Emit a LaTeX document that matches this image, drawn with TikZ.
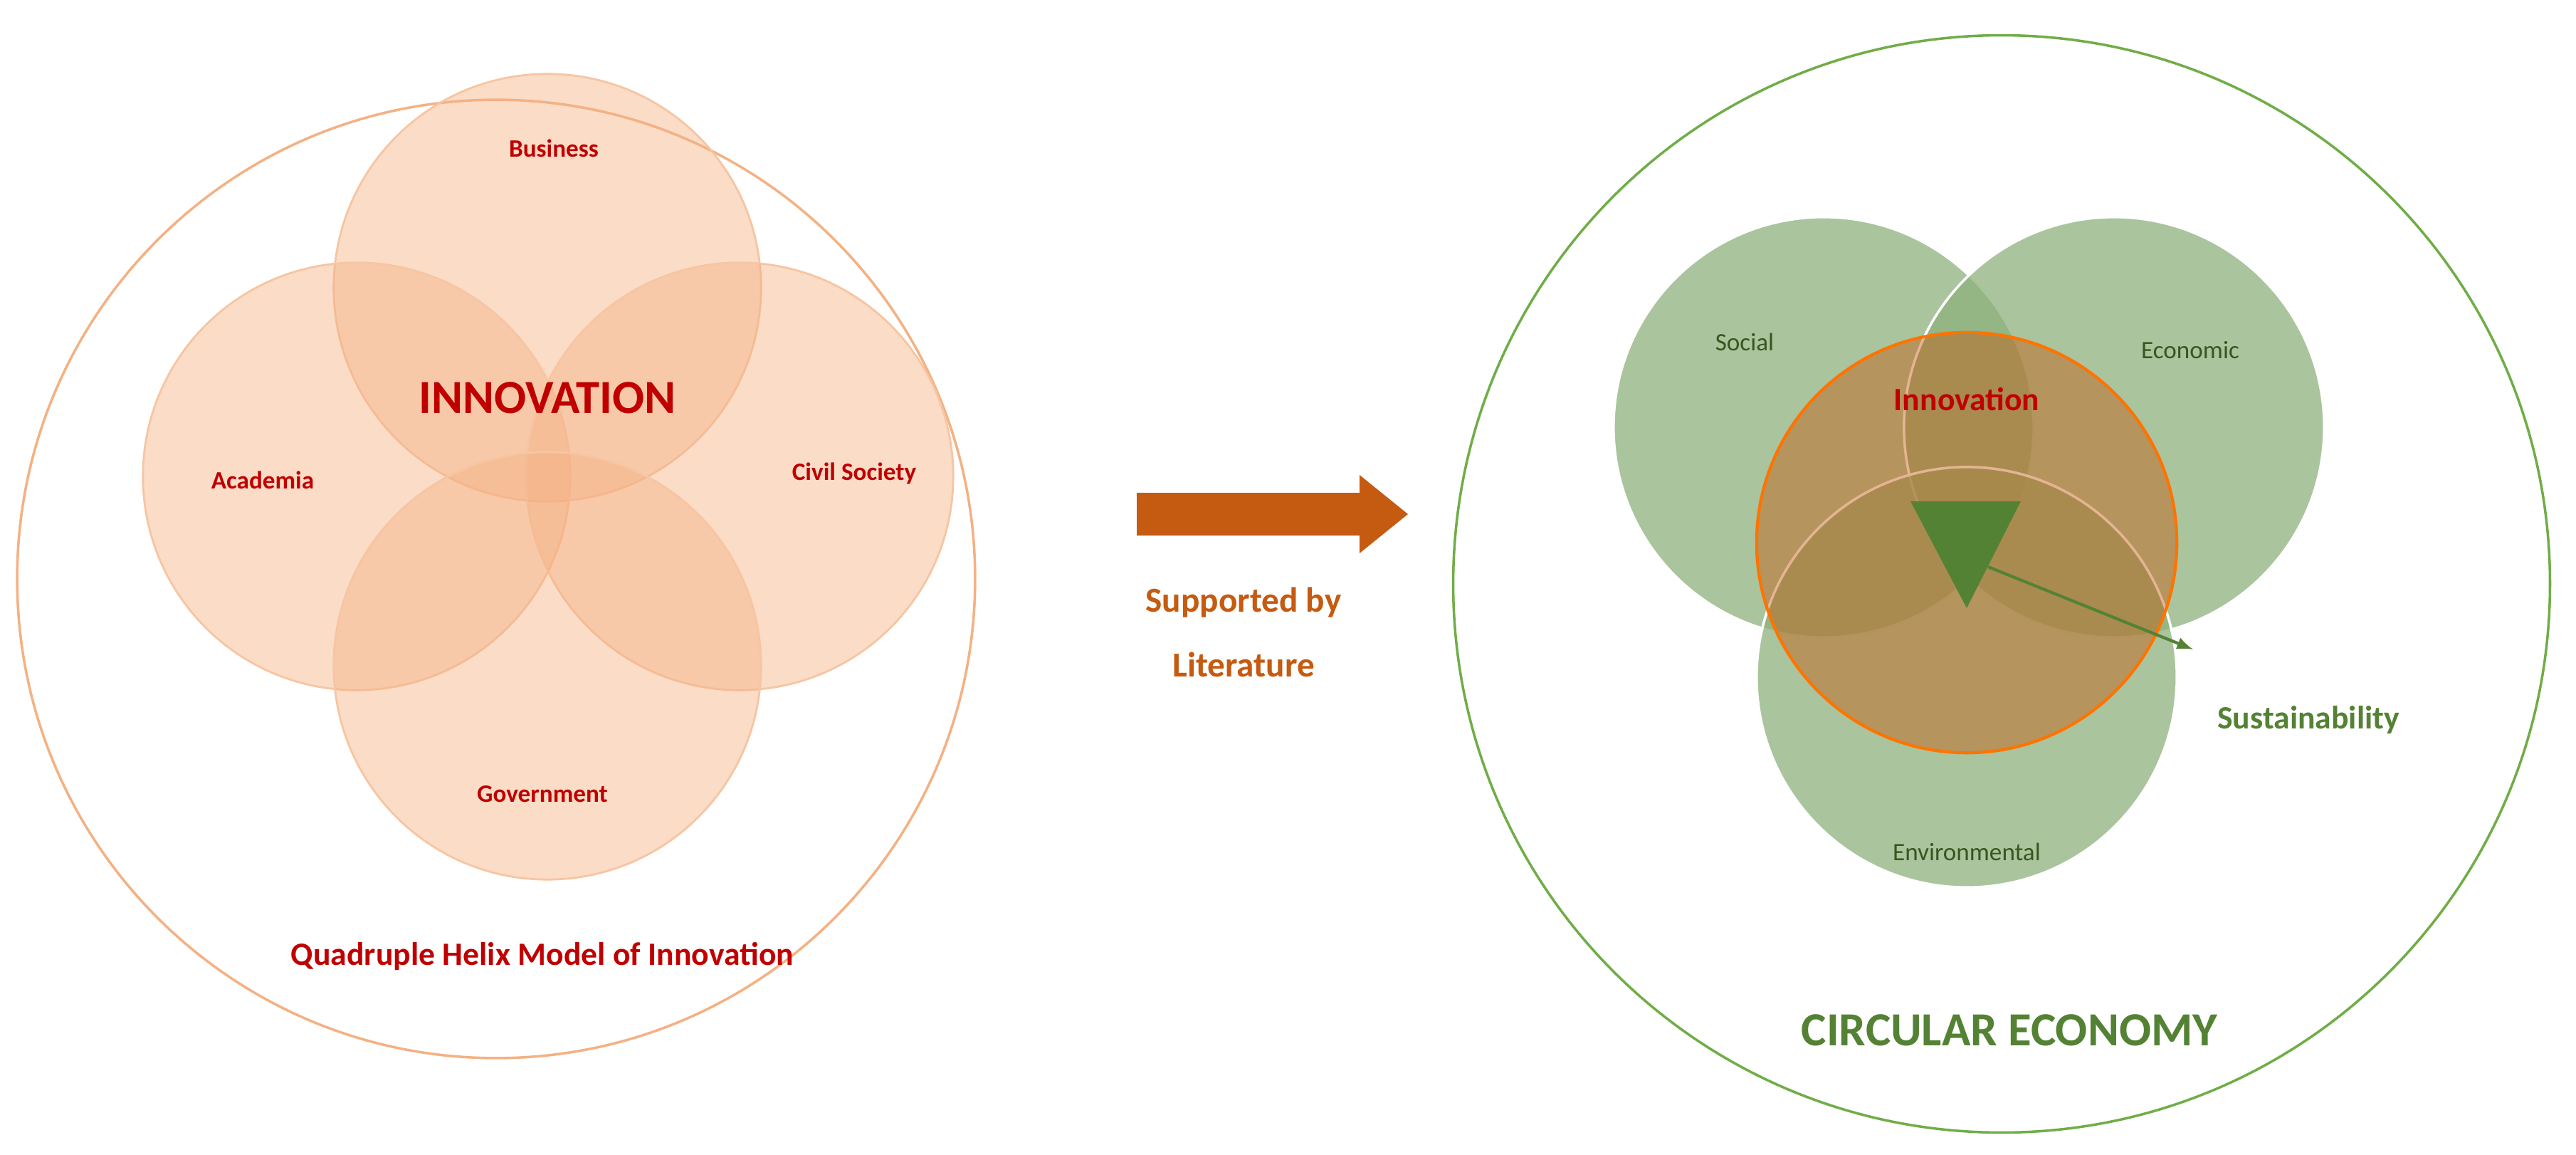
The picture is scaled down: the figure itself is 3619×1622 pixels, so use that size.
\documentclass[tikz,border=0pt]{standalone}
\usepackage{fontspec}
\setmainfont{Carlito}
\begin{document}
\begin{tikzpicture}[x=0.01cm,y=-0.01cm,
  peach/.style={circle,minimum size=6cm,inner sep=0,draw=peachline!75,line width=0.8pt,fill=peachfill,fill opacity=0.45},
  green/.style={circle,minimum size=5.9cm,inner sep=0,draw=white,line width=1pt,fill=greenfill,fill opacity=0.75},
  lab/.style={font=\bfseries\fontsize{10}{12}\selectfont,text=redtxt},
  glab/.style={font=\fontsize{10}{12}\selectfont,text=greentxt}]
\definecolor{peachfill}{HTML}{F4B183}
\definecolor{peachline}{HTML}{F4B183}
\definecolor{redtxt}{HTML}{C00000}
\definecolor{arrowc}{HTML}{C55A11}
\definecolor{greenfill}{HTML}{8DB07C}
\definecolor{greentxt}{HTML}{38561F}
\definecolor{darkgreen}{HTML}{548235}
\definecolor{bigline}{HTML}{70AD47}
\useasboundingbox (0,0) rectangle (3619,1622);
% left
\node[circle,minimum size=13.45cm,inner sep=0,draw=peachline,line width=1pt] (L) at (697,813) {};
\node[peach] (bus) at (769,404) {};
\node[peach] (aca) at (501,669) {};
\node[peach] (civ) at (1039,669) {};
\node[peach] (gov) at (769,935) {};
\node[lab] (tbus) at (778,208) {Business};
\node[lab] (taca) at (369,674) {Academia};
\node[lab] (tciv) at (1200,665) {Civil Society};
\node[lab] (tgov) at (762,1115) {Government};
\node[font=\bfseries\fontsize{19}{22}\selectfont,text=redtxt] (inno) at (769,559) {INNOVATION};
\node[font=\bfseries\fontsize{13}{16}\selectfont,text=redtxt] (quad) at (762,1343) {Quadruple Helix Model of Innovation};
% arrow
\fill[arrowc] (1597,692) -- (1910,692) -- (1910,667) -- (1978,722) -- (1910,777) -- (1910,752) -- (1597,752) -- cycle;
\node[font=\bfseries\fontsize{14}{26}\selectfont,text=arrowc,align=center] (sup) at (1747,888) {Supported by\\Literature};
% right
\node[circle,minimum size=15.4cm,inner sep=0,draw=bigline,line width=1pt] (R) at (2812,820) {};
\node[green] (soc) at (2562,600) {};
\node[green] (eco) at (2970,600) {};
\node[green] (env) at (2763,951) {};
\node[circle,minimum size=5.9cm,inner sep=0,draw=orange!90!red,line width=1.2pt,fill=arrowc,fill opacity=0.45] (innc) at (2763,762) {};
\coordinate (t1) at (2684,704);
\coordinate (t2) at (2839,704);
\coordinate (t3) at (2763,854);
\fill[darkgreen] (t1) -- (t2) -- (t3) -- cycle;
\coordinate (as) at (2793,796);
\coordinate (ae) at (3081,912);
\draw[darkgreen,line width=1.2pt,-latex] (as) -- (ae);
\node[glab] (tsoc) at (2451,480) {Social};
\node[glab] (teco) at (3077,492) {Economic};
\node[glab] (tenv) at (2763,1196) {Environmental};
\node[font=\bfseries\fontsize{13}{16}\selectfont,text=redtxt] (tinn) at (2763,561) {Innovation};
\node[font=\bfseries\fontsize{13}{16}\selectfont,text=darkgreen] (tsus) at (3243,1011) {Sustainability};
\node[font=\bfseries\fontsize{19}{22}\selectfont,text=darkgreen] (tce) at (2823,1447) {CIRCULAR ECONOMY};
\end{tikzpicture}
\end{document}
